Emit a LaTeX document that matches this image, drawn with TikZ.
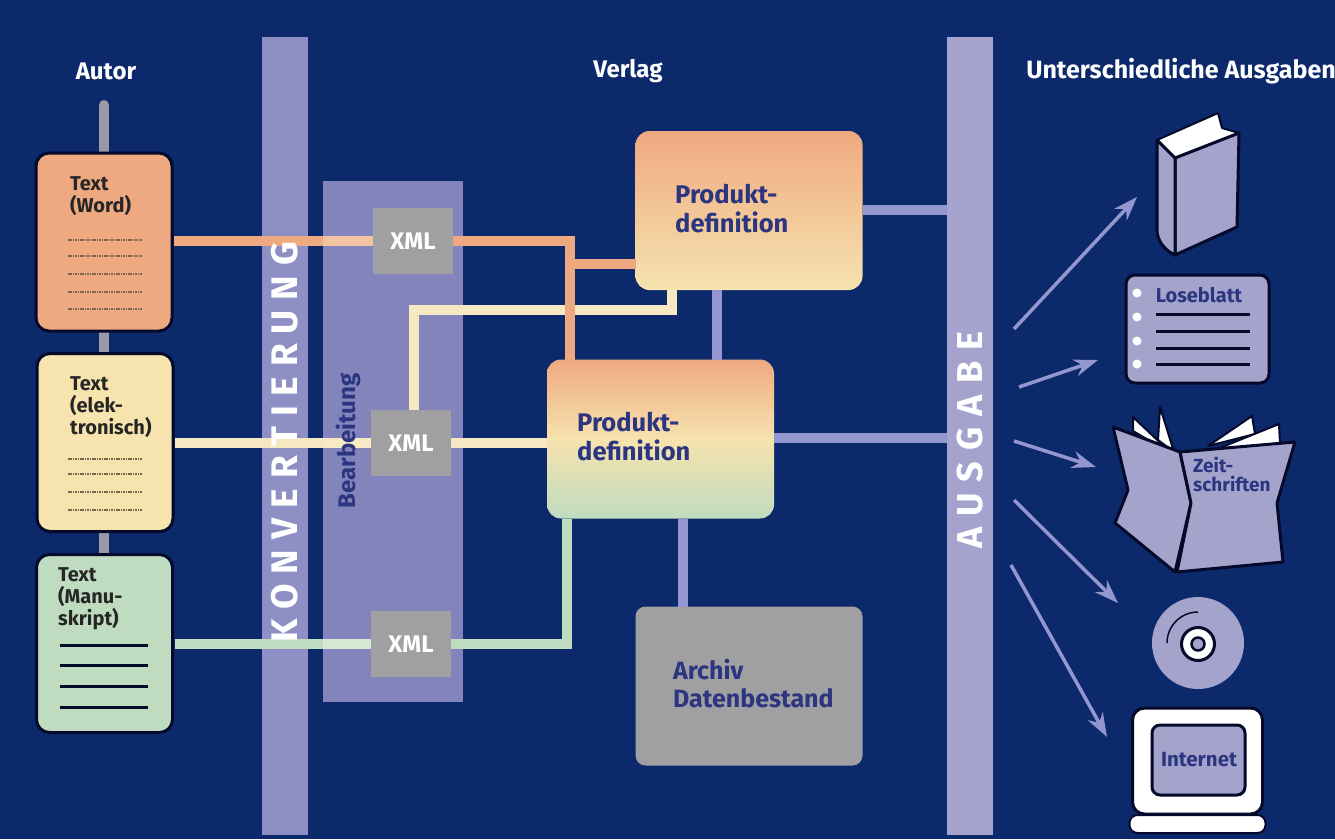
\documentclass[tikz,border=0pt]{standalone}
\usepackage{fontspec}
\setmainfont{Fira Sans}
\newfontfamily\widekon[LetterSpace=27]{Fira Sans}
\newfontfamily\wideaus[LetterSpace=31]{Fira Sans}
\usetikzlibrary{arrows.meta}
\definecolor{bgblue}{HTML}{0C296C}
\definecolor{barkon}{HTML}{8E8FC4}
\definecolor{baraus}{HTML}{A3A3CE}
\definecolor{panelc}{HTML}{8384BC}
\definecolor{linkc}{HTML}{9496CF}
\definecolor{iconc}{HTML}{A3A3CC}
\definecolor{peach}{HTML}{EFA981}
\definecolor{peachl}{HTML}{F3C4A2}
\definecolor{cream}{HTML}{F6E3AE}
\definecolor{creamk}{HTML}{F6E8C2}
\definecolor{creaml}{HTML}{F7EBC6}
\definecolor{mint}{HTML}{BFDCC0}
\definecolor{mintl}{HTML}{D5E8D4}
\definecolor{grayc}{HTML}{A0A0A2}
\definecolor{inkblue}{HTML}{2B3580}
\definecolor{rulec}{HTML}{7D6650}
\definecolor{outl}{HTML}{05092A}
\tikzset{
  head/.style={text=white,font=\fontsize{24}{28}\selectfont\bfseries,inner sep=0pt},
  bar/.style={fill=#1,minimum width=46pt,minimum height=798pt,inner sep=0pt,outer sep=0pt},
  doc/.style={draw=outl,line width=3pt,rounded corners=13pt,fill=#1,minimum width=136pt,minimum height=178pt,outer sep=2pt},
  doctext/.style={anchor=north west,inner sep=0pt,align=left,text=black!85,font=\fontsize{20}{22}\selectfont\bfseries},
  xmlbox/.style={fill=grayc,minimum width=80pt,minimum height=66pt,inner sep=0pt,outer sep=0pt,text=white,font=\fontsize{24}{28}\selectfont\bfseries},
  prod/.style={rounded corners=14pt,minimum width=227pt,minimum height=159pt,inner sep=0pt,outer sep=0pt},
  prodtext/.style={anchor=north west,inner sep=0pt,align=left,text=inkblue,font=\fontsize{25.5}{29}\selectfont\bfseries},
  link/.style={line width=10pt,draw=linkc},
  conn/.style={line width=10pt,draw=#1},
  outp/.style={draw=linkc,line width=3.5pt,-{Stealth[length=24pt,width=17pt,inset=8pt]}},
  icon/.style={draw=outl,line width=3pt,fill=iconc,line join=round},
  page/.style={draw=outl,line width=2pt,fill=white,line join=round},
  rulew/.style={draw=rulec,line width=1.2pt,dash pattern=on 1.6pt off 0.8pt},
  ruleb/.style={draw=outl,line width=3pt},
  icontext/.style={text=inkblue,inner sep=0pt,font=\fontsize{20}{22}\selectfont\bfseries,align=left}
}
\begin{document}
\begin{tikzpicture}[x=1pt,y=-1pt]
\useasboundingbox (0,0) rectangle (1335,839);
\fill[bgblue] (0,0) rectangle (1335,839);
% spine behind the documents
\coordinate (spinetop) at (104,105);
\coordinate (spinebot) at (104,556);
\draw[line width=10pt,draw=grayc!80!panelc,line cap=round] (spinetop) -- (spinebot);
% bars and panel
\node[bar=barkon] (konv) at (284.5,436) {};
\node[bar=baraus] (ausg) at (970,436) {};
\node[fill=panelc,minimum width=140pt,minimum height=521pt,inner sep=0pt,outer sep=0pt] (panel) at (393,441.5) {};
% headings
\node[head] (autor)  at (106,71)  {Autor};
\node[head] (verlag) at (628,71)  {Verlag};
\node[head,font=\fontsize{25}{28}\selectfont\bfseries] (ausgaben) at (1181,71) {Unterschiedliche Ausgaben};
% documents
\node[doc=peach] (word)  at (104,242) {};
\node[doc=cream] (elek)  at (105,442.5) {};
\node[doc=mint]  (manu)  at (104.5,643.5) {};
\node[doctext] (tword) at (70,176)  {Text\\(Word)};
\node[doctext] (telek) at (70,376)  {Text\\(elek-\\tronisch)};
\node[doctext] (tmanu) at (58,567)  {Text\\(Manu-\\skript)};
% xml boxes
\node[xmlbox] (xmla) at (413,241) {XML};
\node[xmlbox] (xmlb) at (411,443) {XML};
\node[xmlbox] (xmlc) at (411,644) {XML};
% product boxes
\node[prod,top color=peach,bottom color=cream] (proda) at (749,210.5) {};
\node[prod,top color=peach,bottom color=mint,middle color=cream] (prodb) at (660.5,439) {};
\node[prod,fill=grayc,rounded corners=10pt] (arch) at (749,686) {};
\coordinate (bendw) at (570,241);
\coordinate (joinw) at (570,264);
\coordinate (bendy) at (414,310);
\coordinate (cornery) at (672,310);
\coordinate (bendm) at (567,644);
% connectors
\draw[conn=peach]  (word.east |- xmla) -- (xmla);
\draw[conn=creamk] (elek.east |- xmlb) -- (xmlb);
\draw[conn=mint]   (manu.east |- xmlc) -- (xmlc);
\draw[conn=peachl] (panel.west |- xmla) -- (xmla);
\draw[conn=creaml] (panel.west |- xmlb) -- (xmlb);
\draw[conn=mintl]  (panel.west |- xmlc) -- (xmlc);
\draw[link] (proda.east |- 0,210) -- (ausg.west |- 0,210);
\draw[link] (proda.south -| 717,0) -- (prodb.north -| 717,0);
\draw[link] (prodb.east |- 0,438) -- (ausg.west |- 0,438);
\draw[link] (prodb.south -| 683,0) -- (arch.north -| 683,0);
\draw[conn=creamk] (xmlb.east) -- (prodb.west |- xmlb);
\draw[conn=creamk,line join=miter] (xmlb.north -| bendy) -- (bendy) -- (cornery) -- (cornery |- proda.south);
\draw[conn=mint,line join=miter] (xmlc.east) -- (bendm) -- (bendm |- prodb.south);
\draw[conn=peach,line join=miter] (xmla.east) -- (bendw) -- (bendw |- prodb.north);
\draw[conn=peach] (joinw) -- (joinw -| proda.west);
% output arrows
\coordinate (outa) at (1014,329);
\coordinate (outb) at (1019,387);
\coordinate (outc) at (1014,441);
\coordinate (outd) at (1014,500);
\coordinate (oute) at (1011,565);
\coordinate (ina)  at (1137,197);
\coordinate (inb)  at (1098,360);
\coordinate (inc)  at (1096,467);
\coordinate (ind)  at (1118,603);
\coordinate (ine)  at (1107,737);
\draw[outp] (outa) -- (ina);
\draw[outp] (outb) -- (inb);
\draw[outp] (outc) -- (inc);
\draw[outp] (outd) -- (ind);
\draw[outp] (oute) -- (ine);
% rotated texts
\node[rotate=90,text=white,inner sep=0pt,font=\widekon\fontsize{37}{40}\selectfont\bfseries] (tkonv) at (285,442) {KONVERTIERUNG};
\node[rotate=90,text=white,inner sep=0pt,font=\wideaus\fontsize{36}{40}\selectfont\bfseries] (taus) at (970,440) {AUSGABE};
\node[rotate=90,text=inkblue,inner sep=0pt,font=\fontsize{24}{28}\selectfont\bfseries] (tbear) at (348,441) {Bearbeitung};
% box texts
\node[prodtext] (tproda) at (675,184) {Produkt-\\definition};
\node[prodtext] (tprodb) at (577,412) {Produkt-\\definition};
\node[prodtext,font=\fontsize{25}{28}\selectfont\bfseries] (tarch)  at (673,659) {Archiv\\Datenbestand};
% rules on the documents
\draw[rulew] (68,240) -- (142,240);
\draw[rulew] (68,256) -- (142,256);
\draw[rulew] (68,274) -- (142,274);
\draw[rulew] (68,292) -- (142,292);
\draw[rulew] (68,309) -- (142,309);
\draw[rulew] (68,459) -- (142,459);
\draw[rulew] (68,474) -- (142,474);
\draw[rulew] (68,492) -- (142,492);
\draw[rulew] (68,510) -- (142,510);
\draw[ruleb] (60,645) -- (148,645);
\draw[ruleb] (60,665) -- (148,665);
\draw[ruleb] (60,686) -- (148,686);
\draw[ruleb] (60,707) -- (148,707);
% book
\draw[page] (1157,140) -- (1218,113) -- (1222,128) -- (1239,133) -- (1175,158) -- cycle;
\draw[icon] (1175,158) -- (1239,133) -- (1237,227) -- (1175,255) -- cycle;
\draw[icon] (1157,140) -- (1175,158) -- (1175,255) .. controls (1164,250) and (1157,240) .. (1157,230) -- cycle;
% loose leaf
\node[icon,rounded corners=9pt,minimum width=143pt,minimum height=108pt,inner sep=0pt] (lose) at (1197.5,329) {};
\node[icontext] (tlose) at (1199,295) {Loseblatt};
\fill[white] (1137,293) circle (4.5);
\fill[white] (1137,317) circle (4.5);
\fill[white] (1137,341) circle (4.5);
\fill[white] (1137,364) circle (4.5);
\draw[ruleb] (1156,314) -- (1250,314);
\draw[ruleb] (1156,331) -- (1250,331);
\draw[ruleb] (1156,348) -- (1250,348);
\draw[ruleb] (1156,364) -- (1250,364);
% magazine
\draw[page] (1160,407) -- (1158,440) -- (1174,452) -- cycle;
\draw[page] (1133,417) -- (1133,431) -- (1172,454) -- cycle;
\draw[page] (1252,416) -- (1208,446) -- (1255,434) -- cycle;
\draw[page] (1279,424) -- (1200,456) -- (1280,444) -- cycle;
\draw[icon] (1113,427) -- (1180,452) -- (1191,503) -- (1175,572) -- (1115,523) -- (1128,490) -- cycle;
\draw[icon] (1180,452) -- (1295,442) -- (1277,503) -- (1283,562) -- (1177,572) -- (1191,503) -- cycle;
\node[icontext,font=\fontsize{19}{19}\selectfont\bfseries,anchor=north west] (tzeit) at (1193,457) {Zeit-\\schriften};
% disc
\fill[iconc] (1198,643) circle (46);
\node[draw=outl,line width=3pt,fill=white,circle,minimum size=33pt,inner sep=0pt] (cdhole) at (1198,644) {};
\node[draw=outl,line width=2.5pt,fill=iconc,circle,minimum size=13pt,inner sep=0pt] (cdcore) at (1198,644) {};
\draw[outl,line width=1.5pt] (1167,643) arc[start angle=180,end angle=270,radius=31];
% monitor
\node[draw=outl,line width=3pt,fill=white,rounded corners=12pt,minimum width=130pt,minimum height=106pt,inner sep=0pt] (moni) at (1197.5,761) {};
\node[icon,rounded corners=8pt,minimum width=93pt,minimum height=70pt,inner sep=0pt] (screen) at (1198.5,760) {};
\node[icontext,font=\fontsize{20.5}{22}\selectfont\bfseries] (tnet) at (1199,760) {Internet};
\node[draw=outl,line width=2pt,fill=white,rounded corners=8pt,minimum width=136pt,minimum height=18pt,inner sep=0pt] (base) at (1197.5,824) {};
\end{tikzpicture}
\end{document}
